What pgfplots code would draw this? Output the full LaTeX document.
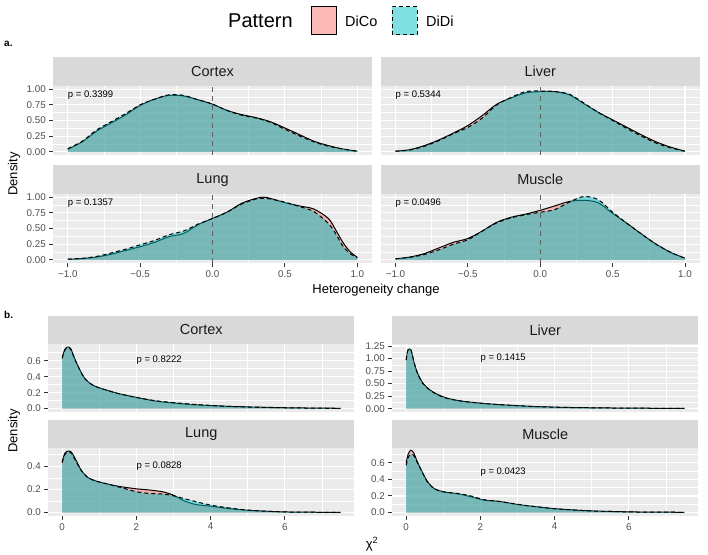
\documentclass[border=0pt]{standalone}
\usepackage{fontspec}
\setmainfont{Liberation Sans}
\usepackage{pgfplots}
\usepackage{pgfplotstable}
\pgfplotsset{compat=1.18}

\definecolor{panelbg}{HTML}{EBEBEB}
\definecolor{stripbg}{HTML}{D9D9D9}
\definecolor{dico}{HTML}{F8766D}
\definecolor{didi}{HTML}{00BFC4}
\definecolor{ticktext}{HTML}{4D4D4D}
\definecolor{tickcol}{HTML}{333333}
\definecolor{striptext}{HTML}{1A1A1A}

% heterogeneity change densities (a)
\pgfplotstableread{
x co di
-1.0 0.04 0.05
-0.9 0.16 0.17
-0.8 0.33 0.35
-0.7 0.46 0.48
-0.6 0.59 0.61
-0.5 0.74 0.75
-0.4 0.84 0.84
-0.3 0.90 0.91
-0.2 0.89 0.90
-0.1 0.83 0.83
0.0 0.76 0.76
0.1 0.66 0.66
0.2 0.595 0.585
0.3 0.545 0.54
0.4 0.48 0.47
0.5 0.38 0.36
0.6 0.275 0.255
0.7 0.17 0.16
0.8 0.10 0.09
0.9 0.045 0.045
1.0 0.01 0.01
}\cortexA
\pgfplotstableread{
x co di
-1.0 0.01 0.01
-0.9 0.035 0.03
-0.8 0.10 0.09
-0.7 0.19 0.18
-0.6 0.30 0.29
-0.5 0.42 0.39
-0.4 0.58 0.54
-0.3 0.76 0.75
-0.2 0.86 0.87
-0.1 0.94 0.96
0.0 0.96 0.97
0.1 0.96 0.96
0.2 0.91 0.92
0.3 0.77 0.78
0.4 0.63 0.63
0.5 0.51 0.50
0.6 0.39 0.37
0.7 0.27 0.25
0.8 0.16 0.14
0.9 0.075 0.065
1.0 0.01 0.01
}\liverA
\pgfplotstableread{
x co di
-1.0 0.01 0.01
-0.9 0.02 0.025
-0.8 0.045 0.055
-0.7 0.09 0.11
-0.6 0.15 0.17
-0.5 0.21 0.24
-0.4 0.28 0.31
-0.3 0.37 0.40
-0.2 0.42 0.46
-0.1 0.56 0.57
0.0 0.66 0.66
0.1 0.76 0.76
0.2 0.90 0.89
0.3 0.98 0.97
0.35 1.0 0.98
0.4 0.98 0.97
0.5 0.91 0.92
0.6 0.86 0.85
0.7 0.81 0.77
0.8 0.66 0.58
0.85 0.48 0.42
0.9 0.28 0.22
0.95 0.13 0.10
1.0 0.04 0.03
}\lungA
\pgfplotstableread{
x co di
-1.0 0.016 0.016
-0.9 0.045 0.04
-0.8 0.10 0.085
-0.7 0.19 0.16
-0.6 0.28 0.25
-0.5 0.34 0.32
-0.4 0.46 0.46
-0.3 0.60 0.59
-0.2 0.68 0.67
-0.1 0.73 0.72
0.0 0.79 0.76
0.1 0.86 0.80
0.2 0.93 0.92
0.3 0.95 1.01
0.4 0.91 0.96
0.5 0.74 0.76
0.6 0.58 0.58
0.7 0.41 0.41
0.8 0.25 0.25
0.9 0.12 0.12
1.0 0.026 0.026
}\muscleA

% chi-square densities (b)
\pgfplotstableread{
x co di
0 0.64 0.63
0.07 0.74 0.73
0.15 0.77 0.77
0.23 0.75 0.74
0.34 0.62 0.62
0.48 0.48 0.48
0.62 0.37 0.37
0.8 0.30 0.30
1.0 0.26 0.26
1.5 0.19 0.19
2.0 0.14 0.14
2.5 0.095 0.10
3.0 0.07 0.075
3.5 0.05 0.055
4.0 0.038 0.04
4.5 0.028 0.028
5.0 0.021 0.02
5.5 0.016 0.015
6.0 0.011 0.011
6.5 0.008 0.008
7.0 0.006 0.005
7.5 0.004 0.004
}\cortexB
\pgfplotstableread{
x co di
0 0.98 0.97
0.04 1.15 1.16
0.09 1.19 1.20
0.14 1.14 1.15
0.21 0.92 0.93
0.30 0.72 0.71
0.44 0.52 0.51
0.62 0.385 0.38
0.84 0.286 0.28
1.1 0.21 0.205
1.5 0.15 0.15
2.0 0.11 0.11
2.5 0.08 0.082
3.0 0.06 0.06
3.5 0.042 0.042
4.0 0.031 0.03
4.5 0.023 0.023
5.0 0.018 0.018
5.5 0.014 0.014
6.0 0.011 0.011
6.5 0.009 0.009
7.0 0.007 0.007
7.5 0.005 0.005
}\liverB
\pgfplotstableread{
x co di
0 0.44 0.43
0.07 0.51 0.50
0.16 0.53 0.525
0.25 0.52 0.51
0.39 0.44 0.43
0.52 0.36 0.36
0.70 0.30 0.30
0.93 0.27 0.27
1.3 0.24 0.24
1.65 0.22 0.21
2.0 0.205 0.18
2.35 0.195 0.165
2.7 0.18 0.16
3.0 0.15 0.145
3.3 0.10 0.12
3.6 0.07 0.095
4.0 0.055 0.065
4.5 0.035 0.04
5.0 0.02 0.022
5.5 0.012 0.012
6.0 0.006 0.006
6.5 0.004 0.004
7.0 0.003 0.003
7.5 0.003 0.003
}\lungB
\pgfplotstableread{
x co di
0 0.60 0.57
0.05 0.70 0.66
0.12 0.75 0.70
0.2 0.72 0.69
0.3 0.61 0.60
0.44 0.48 0.48
0.57 0.375 0.37
0.75 0.29 0.29
1.0 0.25 0.25
1.4 0.225 0.23
1.75 0.19 0.20
2.1 0.15 0.155
2.5 0.135 0.135
3.0 0.098 0.10
3.5 0.07 0.072
4.0 0.047 0.047
4.5 0.032 0.032
5.0 0.02 0.02
5.5 0.014 0.014
6.0 0.009 0.009
6.5 0.006 0.006
7.0 0.005 0.005
7.5 0.004 0.004
}\muscleB

\pgfplotsset{
  gg/.style={
    scale only axis, anchor=south west,
    axis background/.style={fill=panelbg},
    axis line style={draw=none},
    grid=both,
    major grid style={white, line width=1.1pt},
    minor grid style={white, line width=0.55pt},
    tick align=outside, tick pos=left,
    major tick length=4pt, minor tick length=0pt,
    tick style={tickcol, line width=1pt},
    tick label style={font=\fontsize{9.8pt}{10pt}\selectfont, text=ticktext},
  },
  gga/.style={gg, width=318.5pt, height=69pt,
    xmin=-1.1, xmax=1.1, ymin=-0.05, ymax=1.05,
    xtick={-1,-0.5,0,0.5,1}, minor xtick={-0.75,-0.25,0.25,0.75},
    xticklabels={−1.0,−0.5,0.0,0.5,1.0},
    ytick={0,0.25,0.5,0.75,1}, minor ytick={0.125,0.375,0.625,0.875},
    yticklabels={0.00,0.25,0.50,0.75,1.00}},
  ggb/.style={gg, width=306pt, height=67.7pt,
    xmin=-0.375, xmax=7.875,
    xtick={0,2,4,6}, minor xtick={1,3,5,7}, xticklabels={0,2,4,6}},
  notx/.style={xmajorticks=false},
  noty/.style={ymajorticks=false},
}

\newcommand{\dens}[1]{%
  \addplot[draw=none, fill=dico, fill opacity=0.5, smooth] table[x=x,y=co]{#1} \closedcycle;
  \addplot[black, line width=1pt, smooth] table[x=x,y=co]{#1};
  \addplot[draw=none, fill=didi, fill opacity=0.5, smooth] table[x=x,y=di]{#1} \closedcycle;
  \addplot[black, line width=1pt, dash pattern=on 4pt off 3pt, smooth] table[x=x,y=di]{#1};
}
\newcommand{\vzero}{%
  \addplot[black!62, line width=1.2pt, dash pattern=on 5pt off 4pt] coordinates {(0,-0.05) (0,1.05)};
}
\newcommand{\pval}[3]{\node[anchor=west, font=\fontsize{9.5pt}{10pt}\selectfont, inner sep=0pt] at (axis cs:#1,#2) {#3};}
\newcommand{\strip}[3]{%
  \fill[stripbg] (#1.north west) rectangle ([yshift=#2]#1.north east);
  \node[font=\fontsize{14.5pt}{15pt}\selectfont, text=striptext] at ([yshift=#2/2]$(#1.north west)!0.5!(#1.north east)$) {#3};
}

\usetikzlibrary{calc}

\begin{document}
\begin{tikzpicture}
\useasboundingbox (0pt,0pt) rectangle (708pt,554pt);

% legend
\node[anchor=west, font=\fontsize{20pt}{20pt}\selectfont, inner sep=0pt] at (228pt,533pt) {Pattern};
\fill[white] (311pt,519pt) rectangle (336pt,547pt);
\filldraw[fill=dico, fill opacity=0.5, draw=black, line width=1pt] (311pt,519pt) rectangle (336pt,547pt);
\node[anchor=west, font=\fontsize{14.5pt}{15pt}\selectfont, inner sep=0pt] at (345pt,533pt) {DiCo};
\filldraw[fill=didi, fill opacity=0.5, draw=black, line width=1pt, dash pattern=on 4pt off 3pt] (392pt,519pt) rectangle (417pt,547pt);
\node[anchor=west, font=\fontsize{14.5pt}{15pt}\selectfont, inner sep=0pt] at (426pt,533pt) {DiDi};

\node[anchor=west, font=\bfseries\fontsize{10pt}{10pt}\selectfont, inner sep=0pt] at (4pt,510pt) {a.};
\node[anchor=west, font=\bfseries\fontsize{10pt}{10pt}\selectfont, inner sep=0pt] at (4pt,239pt) {b.};

% ---- part a ----
\begin{axis}[gga, notx, name=ca, at={(53.3pt,399pt)}]
\dens{\cortexA}
\vzero
\pval{-1}{0.9}{p = 0.3399}
\end{axis}
\begin{axis}[gga, notx, noty, name=la, at={(381pt,399pt)}]
\dens{\liverA}
\vzero
\pval{-1}{0.9}{p = 0.5344}
\end{axis}
\begin{axis}[gga, name=lua, at={(53.3pt,291pt)}]
\dens{\lungA}
\vzero
\pval{-1}{0.9}{p = 0.1357}
\end{axis}
\begin{axis}[gga, noty, name=ma, at={(381pt,291pt)}]
\dens{\muscleA}
\vzero
\pval{-1}{0.9}{p = 0.0496}
\end{axis}
\strip{ca}{28.5pt}{Cortex}
\strip{la}{28.5pt}{Liver}
\strip{lua}{28.5pt}{Lung}
\strip{ma}{28.5pt}{Muscle}

\node[rotate=90, font=\fontsize{13pt}{13pt}\selectfont] at (14pt,380pt) {Density};
\node[font=\fontsize{13pt}{13pt}\selectfont] at (376pt,264pt) {Heterogeneity change};

% ---- part b ----
\begin{axis}[ggb, notx, name=cb, at={(48.3pt,142.3pt)},
  ymin=-0.0385, ymax=0.8085, ytick={0,0.2,0.4,0.6}, minor ytick={0.1,0.3,0.5,0.7},
  yticklabels={0.0,0.2,0.4,0.6}]
\dens{\cortexB}
\pval{2}{0.6}{p = 0.8222}
\end{axis}
\begin{axis}[ggb, notx, name=lb, at={(392.3pt,142.3pt)},
  ymin=-0.06, ymax=1.29, ytick={0,0.25,0.5,0.75,1,1.25}, minor ytick={0.125,0.375,0.625,0.875,1.125},
  yticklabels={0.00,0.25,0.50,0.75,1.00,1.25}]
\dens{\liverB}
\pval{2}{1.0}{p = 0.1415}
\end{axis}
\begin{axis}[ggb, name=lub, at={(48.3pt,38.3pt)},
  ymin=-0.0265, ymax=0.5565, ytick={0,0.2,0.4}, minor ytick={0.1,0.3,0.5},
  yticklabels={0.0,0.2,0.4}]
\dens{\lungB}
\pval{2}{0.4}{p = 0.0828}
\end{axis}
\begin{axis}[ggb, name=mb, at={(392.3pt,38.3pt)},
  ymin=-0.037, ymax=0.777, ytick={0,0.2,0.4,0.6}, minor ytick={0.1,0.3,0.5,0.7},
  yticklabels={0.0,0.2,0.4,0.6}]
\dens{\muscleB}
\pval{2}{0.49}{p = 0.0423}
\end{axis}
\strip{cb}{28pt}{Cortex}
\strip{lb}{28pt}{Liver}
\strip{lub}{28pt}{Lung}
\strip{mb}{28pt}{Muscle}

\node[rotate=90, font=\fontsize{13pt}{13pt}\selectfont] at (14pt,123pt) {Density};
\node[font=\fontsize{13pt}{13pt}\selectfont] at (372pt,10pt) {χ\textsuperscript{2}};
\end{tikzpicture}
\end{document}
